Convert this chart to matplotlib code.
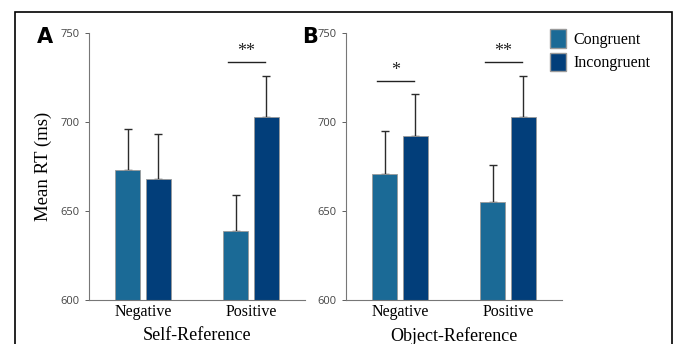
import numpy as np
import matplotlib.pyplot as plt
from matplotlib.patches import Rectangle, Patch

# mean RT and upper error (ms)
categories = ["Negative", "Positive"]
self_cong = [673, 639]
self_incong = [668, 703]
self_cong_err = [23, 20]
self_incong_err = [25, 23]
obj_cong = [671, 655]
obj_incong = [692, 703]
obj_cong_err = [24, 21]
obj_incong_err = [24, 23]

# significance marks: (group index, y, label)
self_sig = [(1, 733.5, "**")]
obj_sig = [(0, 723, "*"), (1, 733.5, "**")]

c_cong = "#1b6a96"
c_incong = "#023e7a"
serif = ["Liberation Serif", "DejaVu Serif"]
sans = ["Open Sans", "DejaVu Sans"]

fig = plt.figure(figsize=(6.73, 3.44), dpi=100)
W, H = 673, 344

# outer frame (bottom edge cut off)
fig.patches.append(Rectangle((15 / W, -0.3), (672 - 15) / W, (344 - 12) / H + 0.3,
                             transform=fig.transFigure, fill=False, edgecolor="black",
                             linewidth=1.2))


def panel(left, cong, incong, cong_err, incong_err, sigs, xlabel, letter, letter_x, ylabel=None):
    ax = fig.add_axes([left / W, (344 - 300) / H, 216 / W, 267 / H])
    x = np.arange(1, len(categories) + 1)
    off, w = 0.143, 0.23
    ax.bar(x - off, cong, w, bottom=0, color=c_cong, edgecolor="#9a9a9a", linewidth=0.6, zorder=2)
    ax.bar(x + off, incong, w, bottom=0, color=c_incong, edgecolor="#9a9a9a", linewidth=0.6, zorder=2)
    ax.errorbar(x - off, cong, yerr=[np.zeros(len(cong)), cong_err], fmt="none",
                ecolor="#2b2b2b", elinewidth=1.0, capsize=2.6, capthick=1.0, zorder=1)
    ax.errorbar(x + off, incong, yerr=[np.zeros(len(incong)), incong_err], fmt="none",
                ecolor="#2b2b2b", elinewidth=1.0, capsize=2.6, capthick=1.0, zorder=1)
    for gi, yv, lab in sigs:
        ax.plot([x[gi] - 0.213, x[gi] + 0.13], [yv, yv], color="#222222", linewidth=1.0)
        ax.text(x[gi] - 0.042, yv + 1.2, lab, ha="center", va="bottom", fontsize=13,
                family=serif, color="#222222")
    ax.set_xlim(0.5, 2.5)
    ax.set_ylim(600, 750)
    ax.set_yticks([600, 650, 700, 750])
    ax.set_xticks(x)
    ax.set_xticklabels(categories, family=serif, fontsize=11.5)
    ax.tick_params(axis="y", labelsize=8, colors="#444444", length=3, width=0.6, pad=4)
    for t in ax.get_yticklabels():
        t.set_family(sans)
    ax.tick_params(axis="x", length=0, pad=3)
    for s in ["top", "right"]:
        ax.spines[s].set_visible(False)
    for s in ["left", "bottom"]:
        ax.spines[s].set_color("#777777")
        ax.spines[s].set_linewidth(0.8)
    ax.set_xlabel(xlabel, family=serif, fontsize=13, labelpad=5)
    if ylabel:
        ax.set_ylabel(ylabel, family=serif, fontsize=13.5, labelpad=6)
    fig.text(letter_x / W, (344 - 37) / H, letter, fontsize=15, fontweight="bold",
             ha="left", va="center", family="DejaVu Sans")
    return ax


panel(89, self_cong, self_incong, self_cong_err, self_incong_err, self_sig,
      "Self-Reference", "A", 37, ylabel="Mean RT (ms)")
panel(346, obj_cong, obj_incong, obj_cong_err, obj_incong_err, obj_sig,
      "Object-Reference", "B", 302)

handles = [Patch(facecolor=c_cong, edgecolor="#9a9a9a"),
           Patch(facecolor=c_incong, edgecolor="#9a9a9a")]
fig.legend(handles, ["Congruent", "Incongruent"], loc="upper left",
           bbox_to_anchor=(536 / W, (344 - 15) / H), frameon=False,
           prop={"family": serif, "size": 11.5}, handlelength=0.95, handleheight=1.4,
           handletextpad=0.5, labelspacing=0.3)

fig.savefig("out.png", dpi=100)
